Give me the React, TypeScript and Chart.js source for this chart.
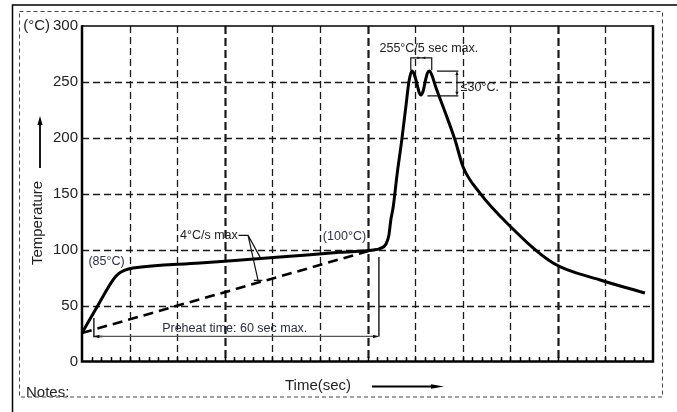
import React, { useEffect, useRef } from "react";
import { Chart, registerables } from "chart.js";

Chart.register(...registerables);

// ---- data (time in arbitrary divisions of 10, temperature in °C) ----
const profileTime = [0, 3.15, 6.52, 7.57, 9.04, 10.72, 24.8, 41.6, 54.2, 61.2, 62.6, 63.9, 64.5, 64.9, 65.4, 66.2, 67.2, 68.1, 68.7, 69.3, 69.8, 70.4, 70.9, 71.2, 71.7, 72.2, 72.6, 73.0, 73.6, 74.2, 76.3, 78.4, 80.1, 83.6, 89.3, 99.0, 108.9, 118.3];
const profileTemp = [25.5, 48.7, 72.9, 78.2, 81.8, 83.6, 88.1, 93.4, 97.6, 99.7, 101.0, 105.1, 113.1, 126.5, 138.1, 166.7, 198.0, 229.3, 249.9, 259.7, 257.0, 248.1, 240.1, 238.3, 241.9, 251.7, 258.0, 259.7, 255.3, 247.2, 223.1, 198.0, 173.9, 150.7, 123.8, 88.1, 72.9, 61.3];
const rampTime = [0, 61.4];
const rampTemp = [25.5, 100.2];

const yTickValues = [0, 50, 100, 150, 200, 250, 300];
const xGridLines = [10, 20, 30, 40, 50, 60, 70, 80, 90, 100, 110];
const xBoldGridLines = [30, 60, 100];
const yGridLines = [50, 100, 150, 200, 250];

const unitLabel = "(°C)";
const yAxisTitle = "Temperature";
const xAxisTitle = "Time(sec)";
const notesLabel = "Notes:";
const label85 = "(85°C)";
const label100 = "(100°C)";
const rampLabel = "4°C/s max";
const preheatLabel = "Preheat time: 60 sec max.";
const peakLabel = "255°C/5 sec max.";
const deltaLabel = "≤30°C.";

const FONT = '"Liberation Sans", Arial, Helvetica, sans-serif';

function arrowHead(ctx: CanvasRenderingContext2D, x: number, y: number, angle: number, len: number, half: number) {
  ctx.save();
  ctx.translate(x, y);
  ctx.rotate(angle);
  ctx.beginPath();
  ctx.moveTo(0, 0);
  ctx.lineTo(-len, -half);
  ctx.lineTo(-len, half);
  ctx.closePath();
  ctx.fill();
  ctx.restore();
}

const reflowPlugin = {
  id: "reflowDecor",
  beforeDatasetsDraw(chart: any) {
    const { ctx, chartArea: a, scales } = chart;
    const xs = scales.x;
    const ys = scales.y;
    ctx.save();
    ctx.strokeStyle = "#1a1a1a";
    // horizontal dashed grid
    ctx.lineWidth = 1.3;
    ctx.setLineDash([7, 4]);
    yGridLines.forEach((v) => {
      const y = Math.round(ys.getPixelForValue(v)) + 0.5;
      ctx.beginPath();
      ctx.moveTo(a.left, y);
      ctx.lineTo(a.right, y);
      ctx.stroke();
    });
    // vertical dashed grid
    xGridLines.forEach((v) => {
      const x = Math.round(xs.getPixelForValue(v)) + 0.5;
      const bold = xBoldGridLines.includes(v);
      ctx.lineWidth = bold ? 2.2 : 1.3;
      ctx.setLineDash(bold ? [8, 4] : [7, 4]);
      ctx.beginPath();
      ctx.moveTo(x, a.top);
      ctx.lineTo(x, a.bottom);
      ctx.stroke();
    });
    ctx.setLineDash([]);
    // minor ticks on x axis (inside)
    ctx.lineWidth = 1.5;
    ctx.strokeStyle = "#000";
    for (let v = 2; v < 120; v += 2) {
      const x = Math.round(xs.getPixelForValue(v)) + 0.5;
      ctx.beginPath();
      ctx.moveTo(x, a.bottom);
      ctx.lineTo(x, a.bottom - 4.5);
      ctx.stroke();
    }
    // borders
    ctx.strokeStyle = "#000";
    ctx.lineWidth = 1.5;
    ctx.beginPath();
    ctx.moveTo(a.left, a.top);
    ctx.lineTo(a.right, a.top);
    ctx.stroke();
    ctx.lineWidth = 2.5;
    ctx.beginPath();
    ctx.moveTo(a.left, a.top - 0.7);
    ctx.lineTo(a.left, a.bottom);
    ctx.lineTo(a.right, a.bottom);
    ctx.lineTo(a.right, a.top - 0.7);
    ctx.stroke();
    ctx.restore();
  },
  afterDatasetsDraw(chart: any) {
    const { ctx, chartArea: a, scales } = chart;
    const X = (v: number) => scales.x.getPixelForValue(v);
    const Y = (v: number) => scales.y.getPixelForValue(v);
    ctx.save();
    ctx.textBaseline = "middle";

    // ---- annotations ----
    const annColor = "#2e3148";
    ctx.fillStyle = annColor;
    ctx.font = `12.5px ${FONT}`;
    ctx.textAlign = "center";
    ctx.fillText(label85, X(5.15), Y(89));
    ctx.textAlign = "right";
    ctx.fillText(label100, X(59.7), Y(111.3));

    // 4°C/s max with leaders
    ctx.fillStyle = "#222";
    ctx.textAlign = "left";
    ctx.fillText(rampLabel, X(20.6), Y(113));
    ctx.strokeStyle = "#111";
    ctx.lineWidth = 1.2;
    ctx.beginPath();
    ctx.moveTo(X(32.9), Y(112.8));
    ctx.lineTo(X(34.9), Y(112.8));
    ctx.lineTo(X(37.6), Y(92.0));
    ctx.moveTo(X(34.9), Y(112.8));
    ctx.lineTo(X(37.0), Y(72.5));
    ctx.stroke();
    ctx.lineWidth = 1.4;
    ctx.beginPath();
    ctx.moveTo(X(36.1), Y(72.5));
    ctx.lineTo(X(37.9), Y(72.5));
    ctx.stroke();

    // preheat bracket
    ctx.strokeStyle = "#111";
    ctx.lineWidth = 1.4;
    ctx.beginPath();
    ctx.moveTo(X(2.5), Y(38.9));
    ctx.lineTo(X(2.5), Y(22.4));
    ctx.lineTo(X(4.3), Y(22.4));
    ctx.moveTo(X(62.4), Y(93.4));
    ctx.lineTo(X(62.4), Y(22.4));
    ctx.stroke();
    ctx.strokeStyle = "#555";
    ctx.lineWidth = 1.3;
    ctx.beginPath();
    ctx.moveTo(X(2.8), Y(22.4));
    ctx.lineTo(X(62.2), Y(22.4));
    ctx.stroke();
    ctx.fillStyle = "#111";
    arrowHead(ctx, X(62.4), Y(22.4), 0, 6, 1.8);
    arrowHead(ctx, X(2.6), Y(22.4), Math.PI, 5, 1.8);
    ctx.fillStyle = "#2a2c40";
    ctx.textAlign = "center";
    ctx.fillText(preheatLabel, X(32.1), Y(29.3));

    // 255 peak bracket
    ctx.strokeStyle = "#111";
    ctx.lineWidth = 1.2;
    ctx.beginPath();
    ctx.moveTo(X(69.1), Y(260.5));
    ctx.lineTo(X(69.1), Y(271.5));
    ctx.lineTo(X(73.5), Y(271.5));
    ctx.lineTo(X(73.5), Y(260.5));
    ctx.stroke();
    ctx.fillStyle = "#111";
    arrowHead(ctx, X(71.1), Y(271.5), 0, 3, 1.3);
    arrowHead(ctx, X(71.5), Y(271.5), Math.PI, 3, 1.3);
    ctx.fillStyle = "#222";
    ctx.fillText(peakLabel, X(72.9), Y(279.6));

    // ≤30 bracket
    ctx.strokeStyle = "#111";
    ctx.lineWidth = 1.2;
    ctx.beginPath();
    ctx.moveTo(X(74.6), Y(259.7));
    ctx.lineTo(X(79.1), Y(259.7));
    ctx.moveTo(X(72.6), Y(237.6));
    ctx.lineTo(X(79.1), Y(237.6));
    ctx.moveTo(X(78.8), Y(256.5));
    ctx.lineTo(X(78.8), Y(240.8));
    ctx.stroke();
    ctx.fillStyle = "#111";
    arrowHead(ctx, X(78.8), Y(259.7), -Math.PI / 2, 4, 1.6);
    arrowHead(ctx, X(78.8), Y(237.6), Math.PI / 2, 4, 1.6);
    ctx.fillStyle = "#222";
    ctx.textAlign = "left";
    ctx.fillText(deltaLabel, X(79.6), Y(244.8));

    // ---- axis titles ----
    ctx.fillStyle = "#222";
    ctx.font = `15px ${FONT}`;
    ctx.textAlign = "right";
    ctx.fillText(unitLabel, a.left - 32, a.top);

    ctx.save();
    ctx.translate(37.5, 223);
    ctx.rotate(-Math.PI / 2);
    ctx.textAlign = "center";
    ctx.fillText(yAxisTitle, 0, 0);
    ctx.restore();
    ctx.strokeStyle = "#000";
    ctx.lineWidth = 1.8;
    ctx.beginPath();
    ctx.moveTo(40, 168);
    ctx.lineTo(40, 124);
    ctx.stroke();
    ctx.fillStyle = "#000";
    arrowHead(ctx, 40, 116, -Math.PI / 2, 9, 2.6);

    ctx.fillStyle = "#222";
    ctx.textAlign = "left";
    ctx.fillText(xAxisTitle, 285, 386);
    ctx.strokeStyle = "#000";
    ctx.lineWidth = 1.8;
    ctx.beginPath();
    ctx.moveTo(372, 386.5);
    ctx.lineTo(432, 386.5);
    ctx.stroke();
    ctx.fillStyle = "#000";
    arrowHead(ctx, 444, 386.5, 0, 13, 2.2);

    ctx.fillStyle = "#222";
    ctx.fillText(notesLabel, 26, 392.5);

    // ---- frame ----
    ctx.strokeStyle = "#444";
    ctx.lineWidth = 1;
    ctx.setLineDash([4, 3]);
    ctx.strokeRect(19.5, 11.5, 643, 385.5);
    ctx.setLineDash([]);
    ctx.strokeStyle = "#000";
    ctx.lineWidth = 1.5;
    ctx.beginPath();
    ctx.moveTo(677, 5);
    ctx.lineTo(12.5, 5);
    ctx.lineTo(12.5, 412);
    ctx.stroke();
    ctx.restore();
  },
};

export default function App() {
  const ref = useRef<HTMLCanvasElement | null>(null);
  useEffect(() => {
    if (!ref.current) return;
    const chart = new Chart(ref.current, {
      type: "line",
      data: {
        datasets: [
          {
            label: "profile",
            data: profileTime.map((t, i) => ({ x: t, y: profileTemp[i] })),
            borderColor: "#000",
            borderWidth: 3,
            pointRadius: 0,
            cubicInterpolationMode: "monotone",
            fill: false,
          },
          {
            label: "ramp",
            data: rampTime.map((t, i) => ({ x: t, y: rampTemp[i] })),
            borderColor: "#000",
            borderWidth: 2.6,
            borderDash: [10, 6],
            pointRadius: 0,
            tension: 0,
            fill: false,
          },
        ],
      },
      options: {
        animation: false,
        responsive: false,
        devicePixelRatio: 1,
        layout: { padding: { left: 0, top: 26, right: 24, bottom: 0 } },
        plugins: { legend: { display: false }, tooltip: { enabled: false } },
        scales: {
          x: {
            type: "linear",
            min: 0,
            max: 120,
            grid: { display: false, drawTicks: false },
            border: { display: false },
            ticks: { display: false },
            afterFit: (s: any) => {
              s.height = 50.5;
            },
          },
          y: {
            type: "linear",
            min: 0,
            max: 300,
            afterBuildTicks: (s: any) => {
              s.ticks = yTickValues.map((v) => ({ value: v }));
            },
            grid: { display: false, drawTicks: false },
            border: { display: false },
            ticks: {
              color: "#222",
              padding: 4,
              font: { family: FONT, size: 15 },
            },
            afterFit: (s: any) => {
              s.width = 82;
            },
          },
        },
      },
      plugins: [reflowPlugin],
    });
    return () => chart.destroy();
  }, []);
  return (
    <div style={{ position: "fixed", left: 0, top: 0, width: 677, height: 412, background: "#fff" }}>
      <canvas ref={ref} width={677} height={412} style={{ width: 677, height: 412, display: "block" }} />
    </div>
  );
}
